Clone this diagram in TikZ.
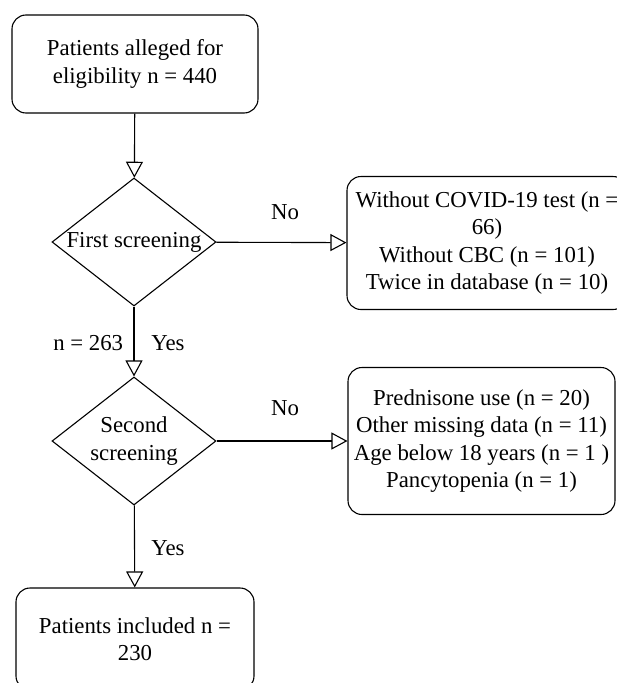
\documentclass[tikz,border=0pt]{standalone}
\usepackage{fontspec}
\setmainfont{LiberationSerif}[Extension=.ttf, UprightFont=*-Regular, BoldFont=*-Bold]
\usetikzlibrary{shapes.geometric,arrows.meta,positioning}

\begin{document}
\begin{tikzpicture}[x=1pt, y=-1pt, line width=1.1pt,
    >={Triangle[open,length=16pt,width=17pt]},
    txt/.style={font=\rmfamily\fontsize{22.8}{27.5}\selectfont},
    box/.style={draw, txt, rounded corners=14pt, align=center, inner sep=0pt},
    decision/.style={draw, diamond, inner sep=0pt, minimum width=164pt, minimum height=128pt}]
    \useasboundingbox (0,0) rectangle (617,683);

    % main column
    \node[box, minimum width=246pt, minimum height=98pt] (start) at (135,64) {Patients alleged for\\eligibility n = 440};
    \node[decision] (first) at (134,242) {};
    \node[txt] (firstlbl) at (first.center) {First screening};
    \node[decision] (second) at (134,441) {};
    \node[txt, align=center] (secondlbl) at (second.center) {Second\\screening};
    \node[box, minimum width=238pt, minimum height=102pt] (incl) at (135,639) {Patients included n =\\230};

    % exclusions
    \node[box, minimum width=280pt, minimum height=133pt] (excl1) at (487,243) {Without COVID-19 test (n =\\66)\\Without CBC (n = 101)\\Twice in database (n = 10)};
    \node[box, minimum width=267pt, minimum height=147pt] (excl2) at (481.5,441) {Prednisone use (n = 20)\\Other missing data (n = 11)\\Age below 18 years (n = 1 )\\Pancytopenia (n = 1)};

    \draw[->] (start) -- (first);
    \draw[->] (first) -- (excl1);
    \draw[->] (first) -- (second);
    \draw[->] (second) -- (excl2);
    \draw[->] (second) -- (incl);

    % labels
    \node[txt] (no1) at (285,212) {No};
    \node[txt] (no2) at (285,408) {No};
    \node[txt, anchor=east] (n263) at (127,343) {n = 263};
    \node[txt] (yes1) at (168,343) {Yes};
    \node[txt] (yes2) at (168,548) {Yes};
\end{tikzpicture}
\end{document}
